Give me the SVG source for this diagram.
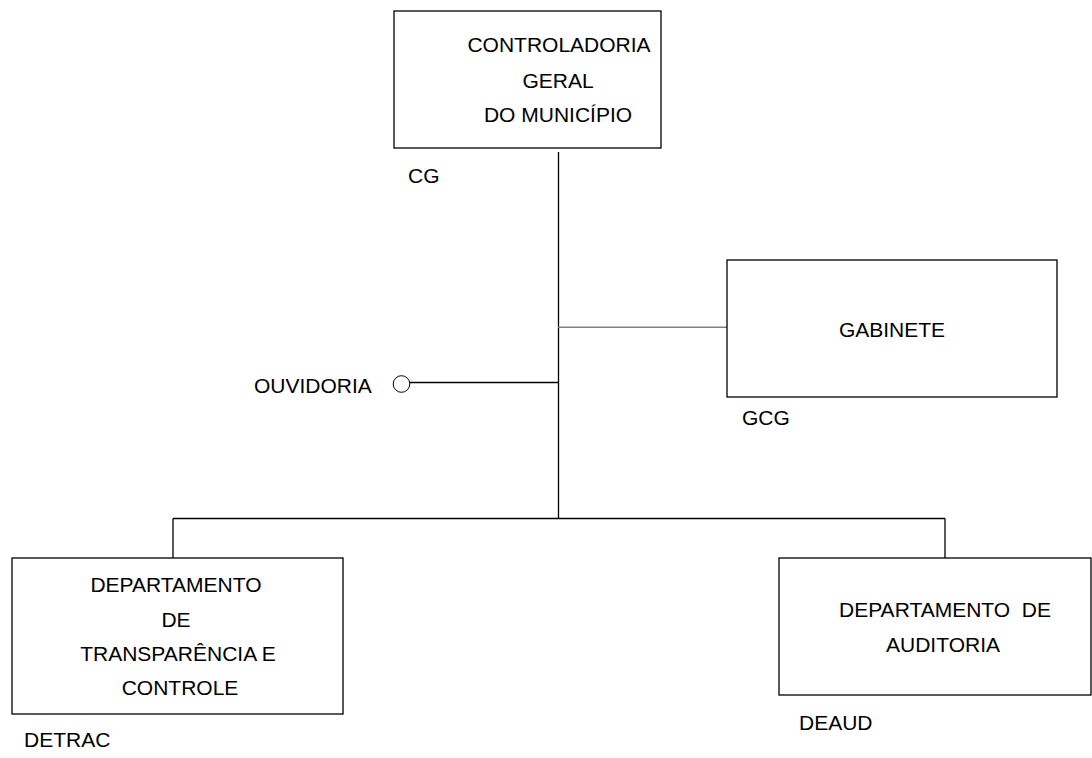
<svg xmlns="http://www.w3.org/2000/svg" width="1092" height="758" viewBox="0 0 1092 758">
<style>
.box{fill:#fff;stroke:#000;stroke-width:1.3}
.t{font-family:"Liberation Sans",Arial,sans-serif;font-size:21px;fill:#000}
.c{text-anchor:middle}
.ln{stroke:#000;stroke-width:1.3;fill:none}
.gr{stroke:#808080;stroke-width:1.5;fill:none}
</style>
<rect width="1092" height="758" fill="#fff"/>
<g id="connectors">
<line class="ln" x1="558.5" y1="152" x2="558.5" y2="519"/>
<line class="gr" x1="558" y1="327.3" x2="727" y2="327.3"/>
<line class="ln" x1="410" y1="382.5" x2="558" y2="382.5"/>
<line class="ln" x1="173" y1="518.5" x2="945" y2="518.5"/>
<line class="ln" x1="173" y1="518.5" x2="173" y2="558"/>
<line class="ln" x1="945" y1="518.5" x2="945" y2="558"/>
<circle cx="401.5" cy="384" r="8.3" fill="#fff" stroke="#000" stroke-width="1"/>
</g>
<g id="cg">
<rect class="box" x="394" y="11" width="267" height="137"/>
<text class="t c" x="559" y="52">CONTROLADORIA</text>
<text class="t c" x="558" y="88">GERAL</text>
<text class="t c" x="558" y="122">DO MUNICÍPIO</text>
<text class="t" x="408" y="183">CG</text>
</g>
<g id="gabinete">
<rect class="box" x="727" y="260" width="330" height="137"/>
<text class="t c" x="892" y="337">GABINETE</text>
<text class="t" x="742" y="425">GCG</text>
</g>
<g id="ouvidoria">
<text class="t" x="254" y="393">OUVIDORIA</text>
</g>
<g id="detrac">
<rect class="box" x="12" y="558" width="331" height="156"/>
<text class="t c" x="176" y="592">DEPARTAMENTO</text>
<text class="t c" x="176" y="627">DE</text>
<text class="t c" x="178" y="661">TRANSPARÊNCIA E</text>
<text class="t c" x="180" y="695">CONTROLE</text>
<text class="t" x="24" y="747">DETRAC</text>
</g>
<g id="deaud">
<rect class="box" x="779" y="558" width="312" height="137"/>
<text class="t c" x="945" y="617" xml:space="preserve">DEPARTAMENTO  DE</text>
<text class="t c" x="943" y="652">AUDITORIA</text>
<text class="t" x="799" y="730">DEAUD</text>
</g>
</svg>
